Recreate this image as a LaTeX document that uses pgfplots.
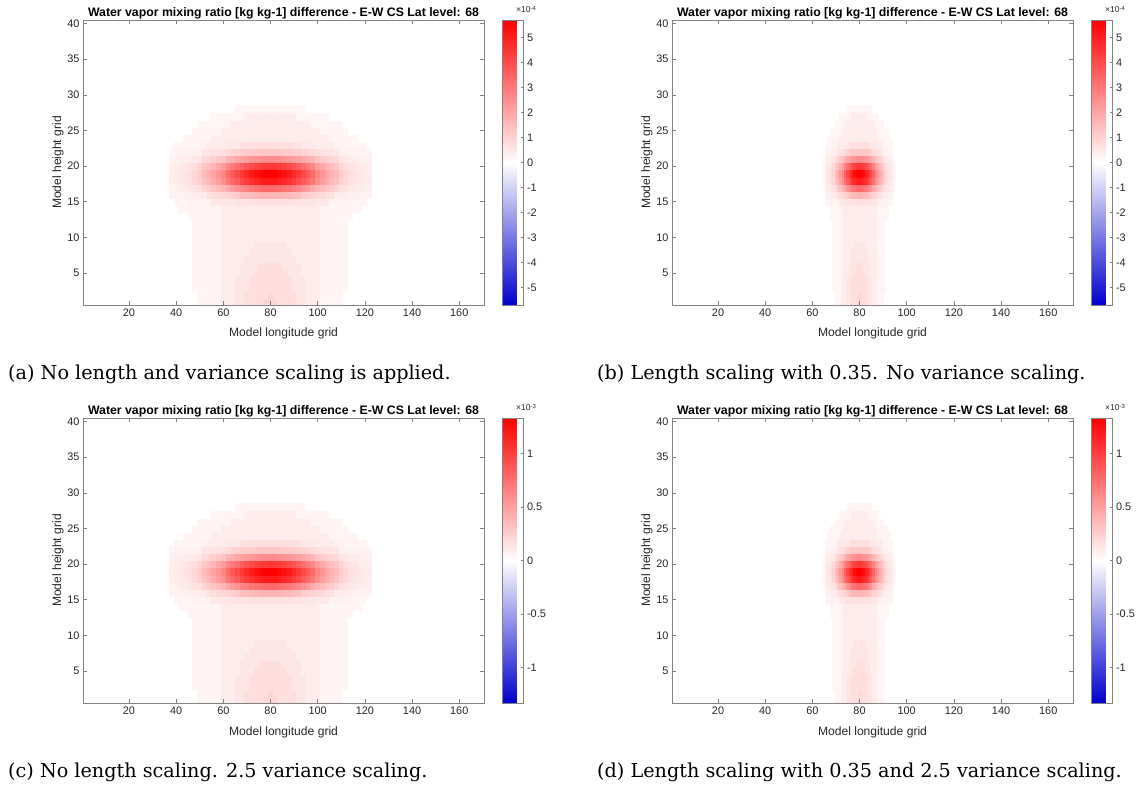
\documentclass[border=0pt]{standalone}
\usepackage{fontspec}
\setmainfont{Liberation Sans}
\newfontfamily\capfont{DejaVu Serif}
\usepackage{pgfplots}
\usepackage{pgfplotstable}
\pgfplotsset{compat=1.18}
\definecolor{axgray}{RGB}{130,130,130}
\definecolor{txtc}{RGB}{38,38,38}
\pgfplotsset{
  colormap={bwr}{rgb255=(0,0,205) rgb255=(255,255,255) rgb255=(255,0,0)},
  every colorbar/.append style={
    scale only axis, width=21pt, height=285pt,
    tick align=inside, major tick length=3pt,
    ytick pos=right, yticklabel pos=right,
    axis line style={draw=axgray, line width=0.6pt},
    tick style={draw=axgray, line width=0.6pt},
    yticklabel style={font=\fontsize{10.9}{13}\selectfont, text=txtc},
  },
  heat/.style={
    scale only axis, width=401pt, height=285pt, anchor=south west,
    xmin=0.5, xmax=170.5, ymin=0.5, ymax=40.5, enlargelimits=false,
    xtick={20,40,...,160}, ytick={5,10,...,40},
    tick align=inside, major tick length=4pt,
    axis line style={draw=axgray, line width=0.6pt},
    tick style={draw=axgray, line width=0.6pt},
    tick label style={font=\fontsize{10.9}{13}\selectfont, text=txtc},
    /pgf/number format/assume math mode=true,
    label style={font=\fontsize{12.1}{14}\selectfont, text=txtc},
    xlabel={Model longitude grid}, ylabel={Model height grid},
    xlabel style={at={(axis description cs:0.5,-0.1123)}, anchor=base},
    ylabel style={at={(axis description cs:-0.0623,0.5)}, anchor=center},
    title={Water vapor mixing ratio [kg kg-1] difference - E-W CS Lat level: 68},
    title style={at={(axis description cs:0.5,1)}, anchor=base, yshift=-2.5pt, inner sep=0pt,
      font=\bfseries\fontsize{12.3}{14}\selectfont},
    colormap name=bwr, point meta min=-100, point meta max=100,
    axis on top, clip=false, colorbar,
  },
  cbA/.style={colorbar style={at={(parent axis.north east)}, anchor=north west, xshift=10pt,
    ytick={-87.72,-70.18,-52.63,-35.09,-17.54,0,17.54,35.09,52.63,70.18,87.72},
    yticklabels={-5,-4,-3,-2,-1,0,1,2,3,4,5}}},
  cbC/.style={colorbar style={at={(parent axis.north east)}, anchor=north west, xshift=10pt,
    ytick={-75.19,-37.59,0,37.59,75.19},
    yticklabels={-1,-0.5,0,0.5,1}}},
}
\pgfplotstableread[row sep=\\]{x y v\\
38 1 0\\40 1 0\\42 1 0\\44 1 0\\46 1 0\\48 1 0\\50 1 4\\52 1 4\\54 1 4\\56 1 4\\58 1 4\\60 1 7\\62 1 7\\64 1 7\\66 1 10\\68 1 10\\70 1 13\\72 1 13\\74 1 13\\76 1 13\\78 1 16\\80 1 16\\82 1 16\\84 1 13\\86 1 13\\88 1 13\\90 1 13\\92 1 10\\94 1 10\\96 1 7\\98 1 7\\100 1 7\\102 1 4\\104 1 4\\106 1 4\\108 1 4\\110 1 4\\112 1 0\\114 1 0\\116 1 0\\118 1 0\\120 1 0\\122 1 0\\
38 2 0\\40 2 0\\42 2 0\\44 2 0\\46 2 0\\48 2 0\\50 2 4\\52 2 4\\54 2 4\\56 2 4\\58 2 4\\60 2 7\\62 2 7\\64 2 7\\66 2 10\\68 2 10\\70 2 13\\72 2 13\\74 2 13\\76 2 13\\78 2 13\\80 2 16\\82 2 13\\84 2 13\\86 2 13\\88 2 13\\90 2 13\\92 2 10\\94 2 10\\96 2 7\\98 2 7\\100 2 7\\102 2 4\\104 2 4\\106 2 4\\108 2 4\\110 2 4\\112 2 0\\114 2 0\\116 2 0\\118 2 0\\120 2 0\\122 2 0\\
38 3 0\\40 3 0\\42 3 0\\44 3 0\\46 3 0\\48 3 4\\50 3 4\\52 3 4\\54 3 4\\56 3 4\\58 3 4\\60 3 7\\62 3 7\\64 3 7\\66 3 10\\68 3 10\\70 3 10\\72 3 13\\74 3 13\\76 3 13\\78 3 13\\80 3 13\\82 3 13\\84 3 13\\86 3 13\\88 3 13\\90 3 10\\92 3 10\\94 3 10\\96 3 7\\98 3 7\\100 3 7\\102 3 4\\104 3 4\\106 3 4\\108 3 4\\110 3 4\\112 3 4\\114 3 0\\116 3 0\\118 3 0\\120 3 0\\122 3 0\\
38 4 0\\40 4 0\\42 4 0\\44 4 0\\46 4 0\\48 4 4\\50 4 4\\52 4 4\\54 4 4\\56 4 4\\58 4 4\\60 4 7\\62 4 7\\64 4 7\\66 4 10\\68 4 10\\70 4 10\\72 4 13\\74 4 13\\76 4 13\\78 4 13\\80 4 13\\82 4 13\\84 4 13\\86 4 13\\88 4 13\\90 4 10\\92 4 10\\94 4 10\\96 4 7\\98 4 7\\100 4 7\\102 4 4\\104 4 4\\106 4 4\\108 4 4\\110 4 4\\112 4 4\\114 4 0\\116 4 0\\118 4 0\\120 4 0\\122 4 0\\
38 5 0\\40 5 0\\42 5 0\\44 5 0\\46 5 0\\48 5 4\\50 5 4\\52 5 4\\54 5 4\\56 5 4\\58 5 4\\60 5 7\\62 5 7\\64 5 7\\66 5 7\\68 5 10\\70 5 10\\72 5 10\\74 5 13\\76 5 13\\78 5 13\\80 5 13\\82 5 13\\84 5 13\\86 5 13\\88 5 10\\90 5 10\\92 5 10\\94 5 7\\96 5 7\\98 5 7\\100 5 7\\102 5 4\\104 5 4\\106 5 4\\108 5 4\\110 5 4\\112 5 4\\114 5 0\\116 5 0\\118 5 0\\120 5 0\\122 5 0\\
38 6 0\\40 6 0\\42 6 0\\44 6 0\\46 6 0\\48 6 4\\50 6 4\\52 6 4\\54 6 4\\56 6 4\\58 6 4\\60 6 7\\62 6 7\\64 6 7\\66 6 7\\68 6 10\\70 6 10\\72 6 10\\74 6 10\\76 6 13\\78 6 13\\80 6 13\\82 6 13\\84 6 13\\86 6 10\\88 6 10\\90 6 10\\92 6 10\\94 6 7\\96 6 7\\98 6 7\\100 6 7\\102 6 4\\104 6 4\\106 6 4\\108 6 4\\110 6 4\\112 6 4\\114 6 0\\116 6 0\\118 6 0\\120 6 0\\122 6 0\\
38 7 0\\40 7 0\\42 7 0\\44 7 0\\46 7 0\\48 7 4\\50 7 4\\52 7 4\\54 7 4\\56 7 4\\58 7 4\\60 7 7\\62 7 7\\64 7 7\\66 7 7\\68 7 7\\70 7 10\\72 7 10\\74 7 10\\76 7 10\\78 7 10\\80 7 10\\82 7 10\\84 7 10\\86 7 10\\88 7 10\\90 7 10\\92 7 7\\94 7 7\\96 7 7\\98 7 7\\100 7 7\\102 7 4\\104 7 4\\106 7 4\\108 7 4\\110 7 4\\112 7 4\\114 7 0\\116 7 0\\118 7 0\\120 7 0\\122 7 0\\
38 8 0\\40 8 0\\42 8 0\\44 8 0\\46 8 0\\48 8 4\\50 8 4\\52 8 4\\54 8 4\\56 8 4\\58 8 4\\60 8 7\\62 8 7\\64 8 7\\66 8 7\\68 8 7\\70 8 7\\72 8 10\\74 8 10\\76 8 10\\78 8 10\\80 8 10\\82 8 10\\84 8 10\\86 8 10\\88 8 10\\90 8 7\\92 8 7\\94 8 7\\96 8 7\\98 8 7\\100 8 7\\102 8 4\\104 8 4\\106 8 4\\108 8 4\\110 8 4\\112 8 4\\114 8 0\\116 8 0\\118 8 0\\120 8 0\\122 8 0\\
38 9 0\\40 9 0\\42 9 0\\44 9 0\\46 9 0\\48 9 4\\50 9 4\\52 9 4\\54 9 4\\56 9 4\\58 9 4\\60 9 7\\62 9 7\\64 9 7\\66 9 7\\68 9 7\\70 9 7\\72 9 7\\74 9 10\\76 9 10\\78 9 10\\80 9 10\\82 9 10\\84 9 10\\86 9 10\\88 9 7\\90 9 7\\92 9 7\\94 9 7\\96 9 7\\98 9 7\\100 9 7\\102 9 4\\104 9 4\\106 9 4\\108 9 4\\110 9 4\\112 9 4\\114 9 0\\116 9 0\\118 9 0\\120 9 0\\122 9 0\\
38 10 0\\40 10 0\\42 10 0\\44 10 0\\46 10 0\\48 10 4\\50 10 4\\52 10 4\\54 10 4\\56 10 4\\58 10 4\\60 10 7\\62 10 7\\64 10 7\\66 10 7\\68 10 7\\70 10 7\\72 10 7\\74 10 7\\76 10 7\\78 10 7\\80 10 7\\82 10 7\\84 10 7\\86 10 7\\88 10 7\\90 10 7\\92 10 7\\94 10 7\\96 10 7\\98 10 7\\100 10 7\\102 10 4\\104 10 4\\106 10 4\\108 10 4\\110 10 4\\112 10 4\\114 10 0\\116 10 0\\118 10 0\\120 10 0\\122 10 0\\
38 11 0\\40 11 0\\42 11 0\\44 11 0\\46 11 0\\48 11 4\\50 11 4\\52 11 4\\54 11 4\\56 11 4\\58 11 4\\60 11 7\\62 11 7\\64 11 7\\66 11 7\\68 11 7\\70 11 7\\72 11 7\\74 11 7\\76 11 7\\78 11 7\\80 11 7\\82 11 7\\84 11 7\\86 11 7\\88 11 7\\90 11 7\\92 11 7\\94 11 7\\96 11 7\\98 11 7\\100 11 7\\102 11 4\\104 11 4\\106 11 4\\108 11 4\\110 11 4\\112 11 4\\114 11 0\\116 11 0\\118 11 0\\120 11 0\\122 11 0\\
38 12 0\\40 12 0\\42 12 0\\44 12 0\\46 12 0\\48 12 4\\50 12 4\\52 12 4\\54 12 4\\56 12 4\\58 12 4\\60 12 7\\62 12 7\\64 12 7\\66 12 7\\68 12 7\\70 12 7\\72 12 7\\74 12 7\\76 12 7\\78 12 7\\80 12 7\\82 12 7\\84 12 7\\86 12 7\\88 12 7\\90 12 7\\92 12 7\\94 12 7\\96 12 7\\98 12 7\\100 12 7\\102 12 4\\104 12 4\\106 12 4\\108 12 4\\110 12 4\\112 12 4\\114 12 0\\116 12 0\\118 12 0\\120 12 0\\122 12 0\\
38 13 0\\40 13 0\\42 13 0\\44 13 0\\46 13 4\\48 13 4\\50 13 4\\52 13 4\\54 13 4\\56 13 4\\58 13 4\\60 13 7\\62 13 7\\64 13 7\\66 13 7\\68 13 7\\70 13 7\\72 13 7\\74 13 7\\76 13 7\\78 13 7\\80 13 7\\82 13 7\\84 13 7\\86 13 7\\88 13 7\\90 13 7\\92 13 7\\94 13 7\\96 13 7\\98 13 7\\100 13 7\\102 13 4\\104 13 4\\106 13 4\\108 13 4\\110 13 4\\112 13 4\\114 13 4\\116 13 0\\118 13 0\\120 13 0\\122 13 0\\
38 14 0\\40 14 0\\42 14 4\\44 14 4\\46 14 4\\48 14 4\\50 14 4\\52 14 4\\54 14 4\\56 14 4\\58 14 4\\60 14 7\\62 14 8\\64 14 8\\66 14 8\\68 14 8\\70 14 8\\72 14 8\\74 14 8\\76 14 8\\78 14 8\\80 14 8\\82 14 8\\84 14 8\\86 14 8\\88 14 8\\90 14 8\\92 14 8\\94 14 8\\96 14 8\\98 14 8\\100 14 7\\102 14 4\\104 14 4\\106 14 4\\108 14 4\\110 14 4\\112 14 4\\114 14 4\\116 14 4\\118 14 4\\120 14 0\\122 14 0\\
38 15 0\\40 15 4\\42 15 4\\44 15 4\\46 15 5\\48 15 5\\50 15 5\\52 15 5\\54 15 5\\56 15 9\\58 15 9\\60 15 9\\62 15 10\\64 15 10\\66 15 11\\68 15 11\\70 15 11\\72 15 12\\74 15 12\\76 15 12\\78 15 12\\80 15 12\\82 15 12\\84 15 12\\86 15 12\\88 15 12\\90 15 11\\92 15 11\\94 15 11\\96 15 10\\98 15 10\\100 15 9\\102 15 9\\104 15 9\\106 15 5\\108 15 5\\110 15 5\\112 15 5\\114 15 5\\116 15 4\\118 15 4\\120 15 4\\122 15 0\\
38 16 5\\40 16 5\\42 16 5\\44 16 6\\46 16 6\\48 16 7\\50 16 7\\52 16 8\\54 16 12\\56 16 13\\58 16 15\\60 16 16\\62 16 18\\64 16 19\\66 16 20\\68 16 25\\70 16 26\\72 16 27\\74 16 28\\76 16 29\\78 16 30\\80 16 30\\82 16 30\\84 16 29\\86 16 28\\88 16 27\\90 16 26\\92 16 25\\94 16 20\\96 16 19\\98 16 18\\100 16 16\\102 16 15\\104 16 13\\106 16 12\\108 16 8\\110 16 7\\112 16 7\\114 16 6\\116 16 6\\118 16 5\\120 16 5\\122 16 5\\
38 17 6\\40 17 6\\42 17 7\\44 17 8\\46 17 9\\48 17 11\\50 17 12\\52 17 17\\54 17 20\\56 17 23\\58 17 26\\60 17 29\\62 17 33\\64 17 39\\66 17 43\\68 17 47\\70 17 50\\72 17 53\\74 17 55\\76 17 57\\78 17 58\\80 17 58\\82 17 58\\84 17 57\\86 17 55\\88 17 53\\90 17 50\\92 17 47\\94 17 43\\96 17 39\\98 17 33\\100 17 29\\102 17 26\\104 17 23\\106 17 20\\108 17 17\\110 17 12\\112 17 11\\114 17 9\\116 17 8\\118 17 7\\120 17 6\\122 17 6\\
38 18 7\\40 18 8\\42 18 9\\44 18 10\\46 18 12\\48 18 15\\50 18 18\\52 18 24\\54 18 28\\56 18 33\\58 18 38\\60 18 44\\62 18 53\\64 18 59\\66 18 65\\68 18 71\\70 18 76\\72 18 81\\74 18 85\\76 18 88\\78 18 90\\80 18 90\\82 18 90\\84 18 88\\86 18 85\\88 18 81\\90 18 76\\92 18 71\\94 18 65\\96 18 59\\98 18 53\\100 18 44\\102 18 38\\104 18 33\\106 18 28\\108 18 24\\110 18 18\\112 18 15\\114 18 12\\116 18 10\\118 18 9\\120 18 8\\122 18 7\\
38 19 7\\40 19 8\\42 19 9\\44 19 11\\46 19 13\\48 19 16\\50 19 20\\52 19 27\\54 19 31\\56 19 36\\58 19 42\\60 19 48\\62 19 58\\64 19 65\\66 19 72\\68 19 78\\70 19 84\\72 19 90\\74 19 94\\76 19 97\\78 19 100\\80 19 100\\82 19 100\\84 19 97\\86 19 94\\88 19 90\\90 19 84\\92 19 78\\94 19 72\\96 19 65\\98 19 58\\100 19 48\\102 19 42\\104 19 36\\106 19 31\\108 19 27\\110 19 20\\112 19 16\\114 19 13\\116 19 11\\118 19 9\\120 19 8\\122 19 7\\
38 20 6\\40 20 7\\42 20 8\\44 20 10\\46 20 11\\48 20 13\\50 20 16\\52 20 22\\54 20 25\\56 20 29\\58 20 34\\60 20 39\\62 20 47\\64 20 52\\66 20 57\\68 20 62\\70 20 67\\72 20 71\\74 20 74\\76 20 77\\78 20 78\\80 20 79\\82 20 78\\84 20 77\\86 20 74\\88 20 71\\90 20 67\\92 20 62\\94 20 57\\96 20 52\\98 20 47\\100 20 39\\102 20 34\\104 20 29\\106 20 25\\108 20 22\\110 20 16\\112 20 13\\114 20 11\\116 20 10\\118 20 8\\120 20 7\\122 20 6\\
38 21 5\\40 21 6\\42 21 6\\44 21 7\\46 21 8\\48 21 9\\50 21 10\\52 21 15\\54 21 16\\56 21 19\\58 21 21\\60 21 23\\62 21 29\\64 21 31\\66 21 34\\68 21 37\\70 21 39\\72 21 41\\74 21 43\\76 21 44\\78 21 45\\80 21 45\\82 21 45\\84 21 44\\86 21 43\\88 21 41\\90 21 39\\92 21 37\\94 21 34\\96 21 31\\98 21 29\\100 21 23\\102 21 21\\104 21 19\\106 21 16\\108 21 15\\110 21 10\\112 21 9\\114 21 8\\116 21 7\\118 21 6\\120 21 6\\122 21 5\\
38 22 4\\40 22 5\\42 22 5\\44 22 5\\46 22 5\\48 22 6\\50 22 6\\52 22 10\\54 22 10\\56 22 11\\58 22 12\\60 22 13\\62 22 14\\64 22 17\\66 22 18\\68 22 19\\70 22 20\\72 22 21\\74 22 21\\76 22 22\\78 22 22\\80 22 22\\82 22 22\\84 22 22\\86 22 21\\88 22 21\\90 22 20\\92 22 19\\94 22 18\\96 22 17\\98 22 14\\100 22 13\\102 22 12\\104 22 11\\106 22 10\\108 22 10\\110 22 6\\112 22 6\\114 22 5\\116 22 5\\118 22 5\\120 22 5\\122 22 4\\
38 23 0\\40 23 4\\42 23 4\\44 23 4\\46 23 4\\48 23 4\\50 23 5\\52 23 5\\54 23 8\\56 23 8\\58 23 8\\60 23 8\\62 23 9\\64 23 9\\66 23 9\\68 23 12\\70 23 12\\72 23 13\\74 23 13\\76 23 13\\78 23 13\\80 23 13\\82 23 13\\84 23 13\\86 23 13\\88 23 13\\90 23 12\\92 23 12\\94 23 9\\96 23 9\\98 23 9\\100 23 8\\102 23 8\\104 23 8\\106 23 8\\108 23 5\\110 23 5\\112 23 4\\114 23 4\\116 23 4\\118 23 4\\120 23 4\\122 23 0\\
38 24 0\\40 24 0\\42 24 0\\44 24 4\\46 24 4\\48 24 4\\50 24 4\\52 24 4\\54 24 4\\56 24 7\\58 24 7\\60 24 7\\62 24 7\\64 24 7\\66 24 7\\68 24 7\\70 24 7\\72 24 7\\74 24 7\\76 24 7\\78 24 7\\80 24 7\\82 24 7\\84 24 7\\86 24 7\\88 24 7\\90 24 7\\92 24 7\\94 24 7\\96 24 7\\98 24 7\\100 24 7\\102 24 7\\104 24 7\\106 24 4\\108 24 4\\110 24 4\\112 24 4\\114 24 4\\116 24 4\\118 24 0\\120 24 0\\122 24 0\\
38 25 0\\40 25 0\\42 25 0\\44 25 0\\46 25 0\\48 25 4\\50 25 4\\52 25 4\\54 25 4\\56 25 4\\58 25 4\\60 25 7\\62 25 7\\64 25 7\\66 25 7\\68 25 7\\70 25 7\\72 25 7\\74 25 7\\76 25 7\\78 25 7\\80 25 7\\82 25 7\\84 25 7\\86 25 7\\88 25 7\\90 25 7\\92 25 7\\94 25 7\\96 25 7\\98 25 7\\100 25 7\\102 25 4\\104 25 4\\106 25 4\\108 25 4\\110 25 4\\112 25 4\\114 25 0\\116 25 0\\118 25 0\\120 25 0\\122 25 0\\
38 26 0\\40 26 0\\42 26 0\\44 26 0\\46 26 0\\48 26 0\\50 26 4\\52 26 4\\54 26 4\\56 26 4\\58 26 4\\60 26 4\\62 26 4\\64 26 7\\66 26 7\\68 26 7\\70 26 7\\72 26 7\\74 26 7\\76 26 7\\78 26 7\\80 26 7\\82 26 7\\84 26 7\\86 26 7\\88 26 7\\90 26 7\\92 26 7\\94 26 7\\96 26 7\\98 26 4\\100 26 4\\102 26 4\\104 26 4\\106 26 4\\108 26 4\\110 26 4\\112 26 0\\114 26 0\\116 26 0\\118 26 0\\120 26 0\\122 26 0\\
38 27 0\\40 27 0\\42 27 0\\44 27 0\\46 27 0\\48 27 0\\50 27 0\\52 27 0\\54 27 0\\56 27 4\\58 27 4\\60 27 4\\62 27 4\\64 27 4\\66 27 4\\68 27 4\\70 27 7\\72 27 7\\74 27 7\\76 27 7\\78 27 7\\80 27 7\\82 27 7\\84 27 7\\86 27 7\\88 27 7\\90 27 7\\92 27 4\\94 27 4\\96 27 4\\98 27 4\\100 27 4\\102 27 4\\104 27 4\\106 27 0\\108 27 0\\110 27 0\\112 27 0\\114 27 0\\116 27 0\\118 27 0\\120 27 0\\122 27 0\\
38 28 0\\40 28 0\\42 28 0\\44 28 0\\46 28 0\\48 28 0\\50 28 0\\52 28 0\\54 28 0\\56 28 0\\58 28 0\\60 28 0\\62 28 0\\64 28 0\\66 28 4\\68 28 4\\70 28 4\\72 28 4\\74 28 4\\76 28 4\\78 28 4\\80 28 4\\82 28 4\\84 28 4\\86 28 4\\88 28 4\\90 28 4\\92 28 4\\94 28 4\\96 28 0\\98 28 0\\100 28 0\\102 28 0\\104 28 0\\106 28 0\\108 28 0\\110 28 0\\112 28 0\\114 28 0\\116 28 0\\118 28 0\\120 28 0\\122 28 0\\
}\tabA
\pgfplotstableread[row sep=\\]{x y v\\
65 1 0\\66 1 0\\67 1 0\\68 1 0\\69 1 0\\70 1 4\\71 1 4\\72 1 4\\73 1 7\\74 1 7\\75 1 10\\76 1 10\\77 1 13\\78 1 13\\79 1 13\\80 1 16\\81 1 13\\82 1 13\\83 1 13\\84 1 10\\85 1 10\\86 1 7\\87 1 7\\88 1 4\\89 1 4\\90 1 4\\91 1 0\\92 1 0\\93 1 0\\94 1 0\\95 1 0\\
65 2 0\\66 2 0\\67 2 0\\68 2 0\\69 2 0\\70 2 4\\71 2 4\\72 2 4\\73 2 7\\74 2 7\\75 2 10\\76 2 10\\77 2 13\\78 2 13\\79 2 13\\80 2 16\\81 2 13\\82 2 13\\83 2 13\\84 2 10\\85 2 10\\86 2 7\\87 2 7\\88 2 4\\89 2 4\\90 2 4\\91 2 0\\92 2 0\\93 2 0\\94 2 0\\95 2 0\\
65 3 0\\66 3 0\\67 3 0\\68 3 0\\69 3 4\\70 3 4\\71 3 4\\72 3 4\\73 3 7\\74 3 7\\75 3 10\\76 3 10\\77 3 13\\78 3 13\\79 3 13\\80 3 13\\81 3 13\\82 3 13\\83 3 13\\84 3 10\\85 3 10\\86 3 7\\87 3 7\\88 3 4\\89 3 4\\90 3 4\\91 3 4\\92 3 0\\93 3 0\\94 3 0\\95 3 0\\
65 4 0\\66 4 0\\67 4 0\\68 4 0\\69 4 4\\70 4 4\\71 4 4\\72 4 4\\73 4 7\\74 4 7\\75 4 10\\76 4 10\\77 4 13\\78 4 13\\79 4 13\\80 4 13\\81 4 13\\82 4 13\\83 4 13\\84 4 10\\85 4 10\\86 4 7\\87 4 7\\88 4 4\\89 4 4\\90 4 4\\91 4 4\\92 4 0\\93 4 0\\94 4 0\\95 4 0\\
65 5 0\\66 5 0\\67 5 0\\68 5 0\\69 5 4\\70 5 4\\71 5 4\\72 5 4\\73 5 7\\74 5 7\\75 5 7\\76 5 10\\77 5 10\\78 5 13\\79 5 13\\80 5 13\\81 5 13\\82 5 13\\83 5 10\\84 5 10\\85 5 7\\86 5 7\\87 5 7\\88 5 4\\89 5 4\\90 5 4\\91 5 4\\92 5 0\\93 5 0\\94 5 0\\95 5 0\\
65 6 0\\66 6 0\\67 6 0\\68 6 0\\69 6 4\\70 6 4\\71 6 4\\72 6 4\\73 6 7\\74 6 7\\75 6 7\\76 6 10\\77 6 10\\78 6 10\\79 6 13\\80 6 13\\81 6 13\\82 6 10\\83 6 10\\84 6 10\\85 6 7\\86 6 7\\87 6 7\\88 6 4\\89 6 4\\90 6 4\\91 6 4\\92 6 0\\93 6 0\\94 6 0\\95 6 0\\
65 7 0\\66 7 0\\67 7 0\\68 7 0\\69 7 4\\70 7 4\\71 7 4\\72 7 4\\73 7 7\\74 7 7\\75 7 7\\76 7 7\\77 7 10\\78 7 10\\79 7 10\\80 7 10\\81 7 10\\82 7 10\\83 7 10\\84 7 7\\85 7 7\\86 7 7\\87 7 7\\88 7 4\\89 7 4\\90 7 4\\91 7 4\\92 7 0\\93 7 0\\94 7 0\\95 7 0\\
65 8 0\\66 8 0\\67 8 0\\68 8 0\\69 8 4\\70 8 4\\71 8 4\\72 8 4\\73 8 7\\74 8 7\\75 8 7\\76 8 7\\77 8 10\\78 8 10\\79 8 10\\80 8 10\\81 8 10\\82 8 10\\83 8 10\\84 8 7\\85 8 7\\86 8 7\\87 8 7\\88 8 4\\89 8 4\\90 8 4\\91 8 4\\92 8 0\\93 8 0\\94 8 0\\95 8 0\\
65 9 0\\66 9 0\\67 9 0\\68 9 0\\69 9 4\\70 9 4\\71 9 4\\72 9 4\\73 9 7\\74 9 7\\75 9 7\\76 9 7\\77 9 7\\78 9 10\\79 9 10\\80 9 10\\81 9 10\\82 9 10\\83 9 7\\84 9 7\\85 9 7\\86 9 7\\87 9 7\\88 9 4\\89 9 4\\90 9 4\\91 9 4\\92 9 0\\93 9 0\\94 9 0\\95 9 0\\
65 10 0\\66 10 0\\67 10 0\\68 10 0\\69 10 4\\70 10 4\\71 10 4\\72 10 4\\73 10 7\\74 10 7\\75 10 7\\76 10 7\\77 10 7\\78 10 7\\79 10 7\\80 10 7\\81 10 7\\82 10 7\\83 10 7\\84 10 7\\85 10 7\\86 10 7\\87 10 7\\88 10 4\\89 10 4\\90 10 4\\91 10 4\\92 10 0\\93 10 0\\94 10 0\\95 10 0\\
65 11 0\\66 11 0\\67 11 0\\68 11 0\\69 11 4\\70 11 4\\71 11 4\\72 11 4\\73 11 7\\74 11 7\\75 11 7\\76 11 7\\77 11 7\\78 11 7\\79 11 7\\80 11 7\\81 11 7\\82 11 7\\83 11 7\\84 11 7\\85 11 7\\86 11 7\\87 11 7\\88 11 4\\89 11 4\\90 11 4\\91 11 4\\92 11 0\\93 11 0\\94 11 0\\95 11 0\\
65 12 0\\66 12 0\\67 12 0\\68 12 0\\69 12 4\\70 12 4\\71 12 4\\72 12 4\\73 12 7\\74 12 7\\75 12 7\\76 12 7\\77 12 7\\78 12 7\\79 12 7\\80 12 7\\81 12 7\\82 12 7\\83 12 7\\84 12 7\\85 12 7\\86 12 7\\87 12 7\\88 12 4\\89 12 4\\90 12 4\\91 12 4\\92 12 0\\93 12 0\\94 12 0\\95 12 0\\
65 13 0\\66 13 0\\67 13 0\\68 13 4\\69 13 4\\70 13 4\\71 13 4\\72 13 4\\73 13 7\\74 13 7\\75 13 7\\76 13 7\\77 13 7\\78 13 7\\79 13 7\\80 13 7\\81 13 7\\82 13 7\\83 13 7\\84 13 7\\85 13 7\\86 13 7\\87 13 7\\88 13 4\\89 13 4\\90 13 4\\91 13 4\\92 13 4\\93 13 0\\94 13 0\\95 13 0\\
65 14 0\\66 14 0\\67 14 0\\68 14 4\\69 14 4\\70 14 4\\71 14 4\\72 14 4\\73 14 7\\74 14 8\\75 14 8\\76 14 8\\77 14 8\\78 14 8\\79 14 8\\80 14 8\\81 14 8\\82 14 8\\83 14 8\\84 14 8\\85 14 8\\86 14 8\\87 14 7\\88 14 4\\89 14 4\\90 14 4\\91 14 4\\92 14 4\\93 14 0\\94 14 0\\95 14 0\\
65 15 0\\66 15 4\\67 15 4\\68 15 5\\69 15 5\\70 15 5\\71 15 5\\72 15 9\\73 15 9\\74 15 10\\75 15 11\\76 15 11\\77 15 12\\78 15 12\\79 15 12\\80 15 12\\81 15 12\\82 15 12\\83 15 12\\84 15 11\\85 15 11\\86 15 10\\87 15 9\\88 15 9\\89 15 5\\90 15 5\\91 15 5\\92 15 5\\93 15 4\\94 15 4\\95 15 0\\
65 16 0\\66 16 5\\67 16 5\\68 16 6\\69 16 7\\70 16 8\\71 16 12\\72 16 14\\73 16 16\\74 16 18\\75 16 20\\76 16 25\\77 16 27\\78 16 28\\79 16 29\\80 16 30\\81 16 29\\82 16 28\\83 16 27\\84 16 25\\85 16 20\\86 16 18\\87 16 16\\88 16 14\\89 16 12\\90 16 8\\91 16 7\\92 16 6\\93 16 5\\94 16 5\\95 16 0\\
65 17 1\\66 17 6\\67 17 7\\68 17 9\\69 17 11\\70 17 14\\71 17 20\\72 17 24\\73 17 29\\74 17 34\\75 17 42\\76 17 47\\77 17 52\\78 17 55\\79 17 58\\80 17 58\\81 17 58\\82 17 55\\83 17 52\\84 17 47\\85 17 42\\86 17 34\\87 17 29\\88 17 24\\89 17 20\\90 17 14\\91 17 11\\92 17 9\\93 17 7\\94 17 6\\95 17 1\\
65 18 2\\66 18 8\\67 18 9\\68 18 12\\69 18 16\\70 18 23\\71 18 29\\72 18 36\\73 18 44\\74 18 55\\75 18 64\\76 18 72\\77 18 80\\78 18 85\\79 18 89\\80 18 90\\81 18 89\\82 18 85\\83 18 80\\84 18 72\\85 18 64\\86 18 55\\87 18 44\\88 18 36\\89 18 29\\90 18 23\\91 18 16\\92 18 12\\93 18 9\\94 18 8\\95 18 2\\
65 19 3\\66 19 8\\67 19 10\\68 19 13\\69 19 17\\70 19 25\\71 19 32\\72 19 40\\73 19 48\\74 19 61\\75 19 71\\76 19 80\\77 19 88\\78 19 95\\79 19 99\\80 19 100\\81 19 99\\82 19 95\\83 19 88\\84 19 80\\85 19 71\\86 19 61\\87 19 48\\88 19 40\\89 19 32\\90 19 25\\91 19 17\\92 19 13\\93 19 10\\94 19 8\\95 19 3\\
65 20 2\\66 20 7\\67 20 9\\68 20 11\\69 20 14\\70 20 21\\71 20 26\\72 20 32\\73 20 39\\74 20 49\\75 20 56\\76 20 63\\77 20 70\\78 20 74\\79 20 78\\80 20 79\\81 20 78\\82 20 74\\83 20 70\\84 20 63\\85 20 56\\86 20 49\\87 20 39\\88 20 32\\89 20 26\\90 20 21\\91 20 14\\92 20 11\\93 20 9\\94 20 7\\95 20 2\\
65 21 1\\66 21 6\\67 21 6\\68 21 8\\69 21 9\\70 21 14\\71 21 17\\72 21 20\\73 21 23\\74 21 30\\75 21 34\\76 21 37\\77 21 41\\78 21 43\\79 21 45\\80 21 45\\81 21 45\\82 21 43\\83 21 41\\84 21 37\\85 21 34\\86 21 30\\87 21 23\\88 21 20\\89 21 17\\90 21 14\\91 21 9\\92 21 8\\93 21 6\\94 21 6\\95 21 1\\
65 22 0\\66 22 5\\67 22 5\\68 22 5\\69 22 6\\70 22 7\\71 22 10\\72 22 11\\73 22 13\\74 22 14\\75 22 18\\76 22 20\\77 22 21\\78 22 22\\79 22 22\\80 22 22\\81 22 22\\82 22 22\\83 22 21\\84 22 20\\85 22 18\\86 22 14\\87 22 13\\88 22 11\\89 22 10\\90 22 7\\91 22 6\\92 22 5\\93 22 5\\94 22 5\\95 22 0\\
65 23 0\\66 23 4\\67 23 4\\68 23 4\\69 23 4\\70 23 5\\71 23 8\\72 23 8\\73 23 8\\74 23 9\\75 23 9\\76 23 12\\77 23 13\\78 23 13\\79 23 13\\80 23 13\\81 23 13\\82 23 13\\83 23 13\\84 23 12\\85 23 9\\86 23 9\\87 23 8\\88 23 8\\89 23 8\\90 23 5\\91 23 4\\92 23 4\\93 23 4\\94 23 4\\95 23 0\\
65 24 0\\66 24 0\\67 24 4\\68 24 4\\69 24 4\\70 24 4\\71 24 4\\72 24 7\\73 24 7\\74 24 7\\75 24 7\\76 24 7\\77 24 7\\78 24 7\\79 24 7\\80 24 7\\81 24 7\\82 24 7\\83 24 7\\84 24 7\\85 24 7\\86 24 7\\87 24 7\\88 24 7\\89 24 4\\90 24 4\\91 24 4\\92 24 4\\93 24 4\\94 24 0\\95 24 0\\
65 25 0\\66 25 0\\67 25 0\\68 25 4\\69 25 4\\70 25 4\\71 25 4\\72 25 4\\73 25 7\\74 25 7\\75 25 7\\76 25 7\\77 25 7\\78 25 7\\79 25 7\\80 25 7\\81 25 7\\82 25 7\\83 25 7\\84 25 7\\85 25 7\\86 25 7\\87 25 7\\88 25 4\\89 25 4\\90 25 4\\91 25 4\\92 25 4\\93 25 0\\94 25 0\\95 25 0\\
65 26 0\\66 26 0\\67 26 0\\68 26 0\\69 26 0\\70 26 4\\71 26 4\\72 26 4\\73 26 4\\74 26 7\\75 26 7\\76 26 7\\77 26 7\\78 26 7\\79 26 7\\80 26 7\\81 26 7\\82 26 7\\83 26 7\\84 26 7\\85 26 7\\86 26 7\\87 26 4\\88 26 4\\89 26 4\\90 26 4\\91 26 0\\92 26 0\\93 26 0\\94 26 0\\95 26 0\\
65 27 0\\66 27 0\\67 27 0\\68 27 0\\69 27 0\\70 27 0\\71 27 0\\72 27 4\\73 27 4\\74 27 4\\75 27 4\\76 27 4\\77 27 7\\78 27 7\\79 27 7\\80 27 7\\81 27 7\\82 27 7\\83 27 7\\84 27 4\\85 27 4\\86 27 4\\87 27 4\\88 27 4\\89 27 0\\90 27 0\\91 27 0\\92 27 0\\93 27 0\\94 27 0\\95 27 0\\
65 28 0\\66 28 0\\67 28 0\\68 28 0\\69 28 0\\70 28 0\\71 28 0\\72 28 0\\73 28 0\\74 28 0\\75 28 4\\76 28 4\\77 28 4\\78 28 4\\79 28 4\\80 28 4\\81 28 4\\82 28 4\\83 28 4\\84 28 4\\85 28 4\\86 28 0\\87 28 0\\88 28 0\\89 28 0\\90 28 0\\91 28 0\\92 28 0\\93 28 0\\94 28 0\\95 28 0\\
}\tabB
\begin{document}
\begin{tikzpicture}
\useasboundingbox (0,0) rectangle (1136pt,787pt);
% (a)
\begin{axis}[heat, cbA, at={(83pt,482pt)}]
\addplot[matrix plot*, mesh/cols=43, point meta=explicit] table[x=x, y=y, meta=v] {\tabA};
\node[anchor=base west, xshift=32pt, yshift=7pt, inner sep=0pt, text=txtc, font=\fontsize{8.5}{9}\selectfont] at (rel axis cs:1,1) {×10\textsuperscript{-4}};
\end{axis}
% (b)
\begin{axis}[heat, cbA, at={(672pt,482pt)}]
\addplot[matrix plot*, mesh/cols=31, point meta=explicit] table[x=x, y=y, meta=v] {\tabB};
\node[anchor=base west, xshift=32pt, yshift=7pt, inner sep=0pt, text=txtc, font=\fontsize{8.5}{9}\selectfont] at (rel axis cs:1,1) {×10\textsuperscript{-4}};
\end{axis}
% (c)
\begin{axis}[heat, cbC, at={(83pt,84pt)}]
\addplot[matrix plot*, mesh/cols=43, point meta=explicit] table[x=x, y=y, meta=v] {\tabA};
\node[anchor=base west, xshift=32pt, yshift=7pt, inner sep=0pt, text=txtc, font=\fontsize{8.5}{9}\selectfont] at (rel axis cs:1,1) {×10\textsuperscript{-3}};
\end{axis}
% (d)
\begin{axis}[heat, cbC, at={(672pt,84pt)}]
\addplot[matrix plot*, mesh/cols=31, point meta=explicit] table[x=x, y=y, meta=v] {\tabB};
\node[anchor=base west, xshift=32pt, yshift=7pt, inner sep=0pt, text=txtc, font=\fontsize{8.5}{9}\selectfont] at (rel axis cs:1,1) {×10\textsuperscript{-3}};
\end{axis}
\tikzset{captxt/.style={anchor=base west, inner sep=0pt, font=\capfont\fontsize{19.2}{22}\selectfont}}
\node[captxt] at (8pt,407pt) {(a) No length and variance scaling is applied.};
\node[captxt] at (597pt,407pt) {(b) Length scaling with 0.35. No variance scaling.};
\node[captxt] at (8pt,9pt) {(c) No length scaling. 2.5 variance scaling.};
\node[captxt] at (597pt,9pt) {(d) Length scaling with 0.35 and 2.5 variance scaling.};
\end{tikzpicture}
\end{document}
